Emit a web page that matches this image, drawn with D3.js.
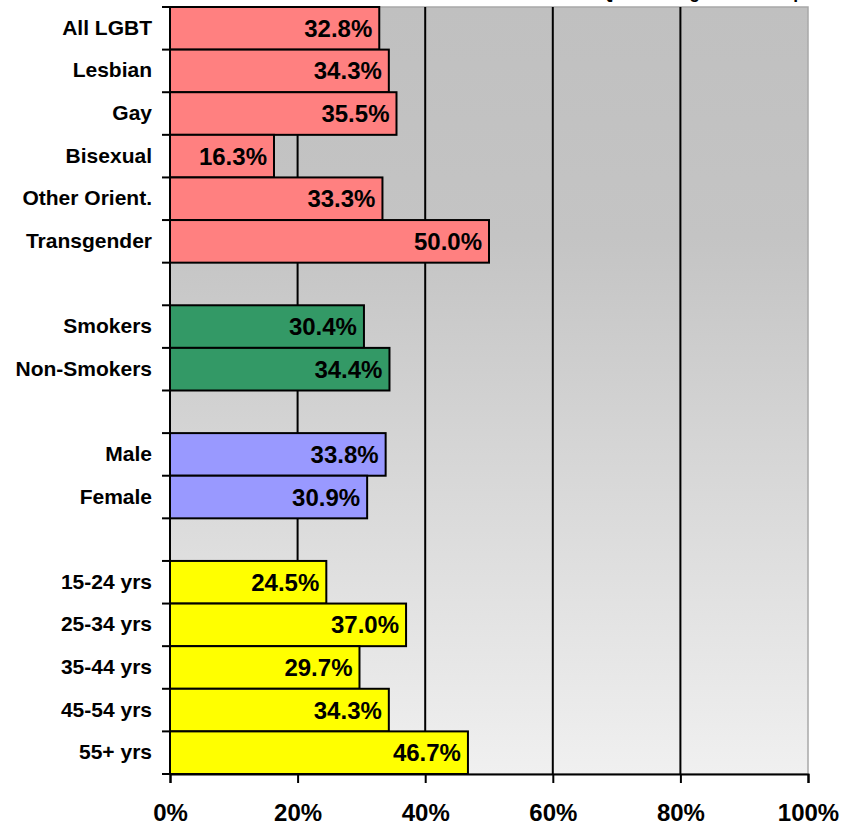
<!DOCTYPE html>
<html>
<head>
<meta charset="utf-8">
<script src="https://cdn.jsdelivr.net/npm/d3@7"></script>
<style>
  html, body { margin: 0; padding: 0; background: #ffffff; }
  svg { display: block; font-family: Arial, "Liberation Sans", sans-serif; font-weight: bold; }
</style>
</head>
<body>
<svg id="chart" width="858" height="825"></svg>
<script>
// Subgroups, top to bottom; each group is separated by an empty row.
const orientationLabels = ["All LGBT", "Lesbian", "Gay", "Bisexual", "Other Orient.", "Transgender"];
const orientationValues = [32.8, 34.3, 35.5, 16.3, 33.3, 50.0];

const smokingLabels = ["Smokers", "Non-Smokers"];
const smokingValues = [30.4, 34.4];

const sexLabels = ["Male", "Female"];
const sexValues = [33.8, 30.9];

const ageLabels = ["15-24 yrs", "25-34 yrs", "35-44 yrs", "45-54 yrs", "55+ yrs"];
const ageValues = [24.5, 37.0, 29.7, 34.3, 46.7];

const groupColors = ["#FF8080", "#339966", "#9999FF", "#FFFF00"];
const xTicks = [0, 20, 40, 60, 80, 100];
const titleText = "Percent Who Tried to Quit Among Each Group";

const groups = [
  { labels: orientationLabels, values: orientationValues },
  { labels: smokingLabels, values: smokingValues },
  { labels: sexLabels, values: sexValues },
  { labels: ageLabels, values: ageValues }
];

// Build the row list (with spacer rows between groups) and the bar records.
const rows = [];
const bars = [];
groups.forEach((g, gi) => {
  if (gi > 0) rows.push("__gap" + gi);
  g.labels.forEach((lab, i) => {
    rows.push(lab);
    bars.push({ label: lab, value: g.values[i], color: groupColors[gi] });
  });
});

const svg = d3.select("#chart");
const plot = { left: 170, right: 808, top: 7, bottom: 774 };

const x = d3.scaleLinear().domain([0, 100]).range([plot.left, plot.right]);
const y = d3.scaleBand().domain(rows).range([plot.top, plot.bottom]).padding(0);

// Plot-area background: vertical grey gradient, darker at the top.
const defs = svg.append("defs");
const grad = defs.append("linearGradient")
  .attr("id", "plotBg").attr("x1", 0).attr("y1", 0).attr("x2", 0).attr("y2", 1);
grad.append("stop").attr("offset", "0%").attr("stop-color", "#C0C0C0");
grad.append("stop").attr("offset", "30%").attr("stop-color", "#C4C4C4");
grad.append("stop").attr("offset", "100%").attr("stop-color", "#F0F0F0");

svg.append("rect")
  .attr("x", plot.left).attr("y", plot.top)
  .attr("width", plot.right - plot.left).attr("height", plot.bottom - plot.top)
  .attr("fill", "url(#plotBg)")
  .attr("stroke", "#A8A8A8").attr("stroke-width", 1.5);

// Title sits above the top edge of the chart area.
svg.append("text")
  .attr("x", 804).attr("y", -1.6)
  .attr("text-anchor", "end")
  .attr("font-size", 17.5)
  .attr("fill", "#000")
  .text(titleText);

// Vertical gridlines.
svg.append("g")
  .selectAll("line")
  .data(xTicks.filter(t => t > 0 && t < 100))
  .join("line")
  .attr("x1", d => x(d)).attr("x2", d => x(d))
  .attr("y1", plot.top).attr("y2", plot.bottom)
  .attr("stroke", "#000").attr("stroke-width", 2);

// Bars.
svg.append("g")
  .selectAll("rect")
  .data(bars)
  .join("rect")
  .attr("x", x(0))
  .attr("y", d => y(d.label))
  .attr("width", d => x(d.value) - x(0))
  .attr("height", y.bandwidth())
  .attr("fill", d => d.color)
  .attr("stroke", "#000")
  .attr("stroke-width", 2);

// Value labels inside the bar ends.
svg.append("g")
  .selectAll("text")
  .data(bars)
  .join("text")
  .attr("x", d => x(d.value) - 7)
  .attr("y", d => y(d.label) + y.bandwidth() / 2 + 8.5)
  .attr("text-anchor", "end")
  .attr("font-size", 24)
  .attr("fill", "#000")
  .text(d => d.value.toFixed(1) + "%");

// Left axis: line, outward ticks at every row boundary, category labels.
const yAxis = svg.append("g");
yAxis.append("line")
  .attr("x1", plot.left).attr("x2", plot.left)
  .attr("y1", plot.top).attr("y2", plot.bottom)
  .attr("stroke", "#000").attr("stroke-width", 2);
const boundaries = rows.map(r => y(r)).concat([plot.bottom]);
yAxis.selectAll("line.tick")
  .data(boundaries)
  .join("line")
  .attr("class", "tick")
  .attr("x1", plot.left - 8).attr("x2", plot.left)
  .attr("y1", d => d).attr("y2", d => d)
  .attr("stroke", "#000").attr("stroke-width", 2);
yAxis.selectAll("text")
  .data(bars)
  .join("text")
  .attr("x", 152)
  .attr("y", d => y(d.label) + y.bandwidth() / 2 + 6.5)
  .attr("text-anchor", "end")
  .attr("font-size", 21)
  .attr("fill", "#000")
  .text(d => d.label);

// Bottom axis.
const xAxis = d3.axisBottom(x)
  .tickValues(xTicks)
  .tickSize(9)
  .tickPadding(21)
  .tickFormat(d => d + "%");
const xg = svg.append("g")
  .attr("transform", `translate(0,${plot.bottom})`)
  .call(xAxis);
xg.select(".domain").attr("stroke", "#000").attr("stroke-width", 2);
xg.selectAll(".tick line").attr("stroke", "#000").attr("stroke-width", 2);
xg.selectAll(".tick text")
  .attr("font-size", 24)
  .attr("font-weight", "bold")
  .attr("font-family", "Arial, 'Liberation Sans', sans-serif")
  .attr("fill", "#000");
</script>
</body>
</html>
